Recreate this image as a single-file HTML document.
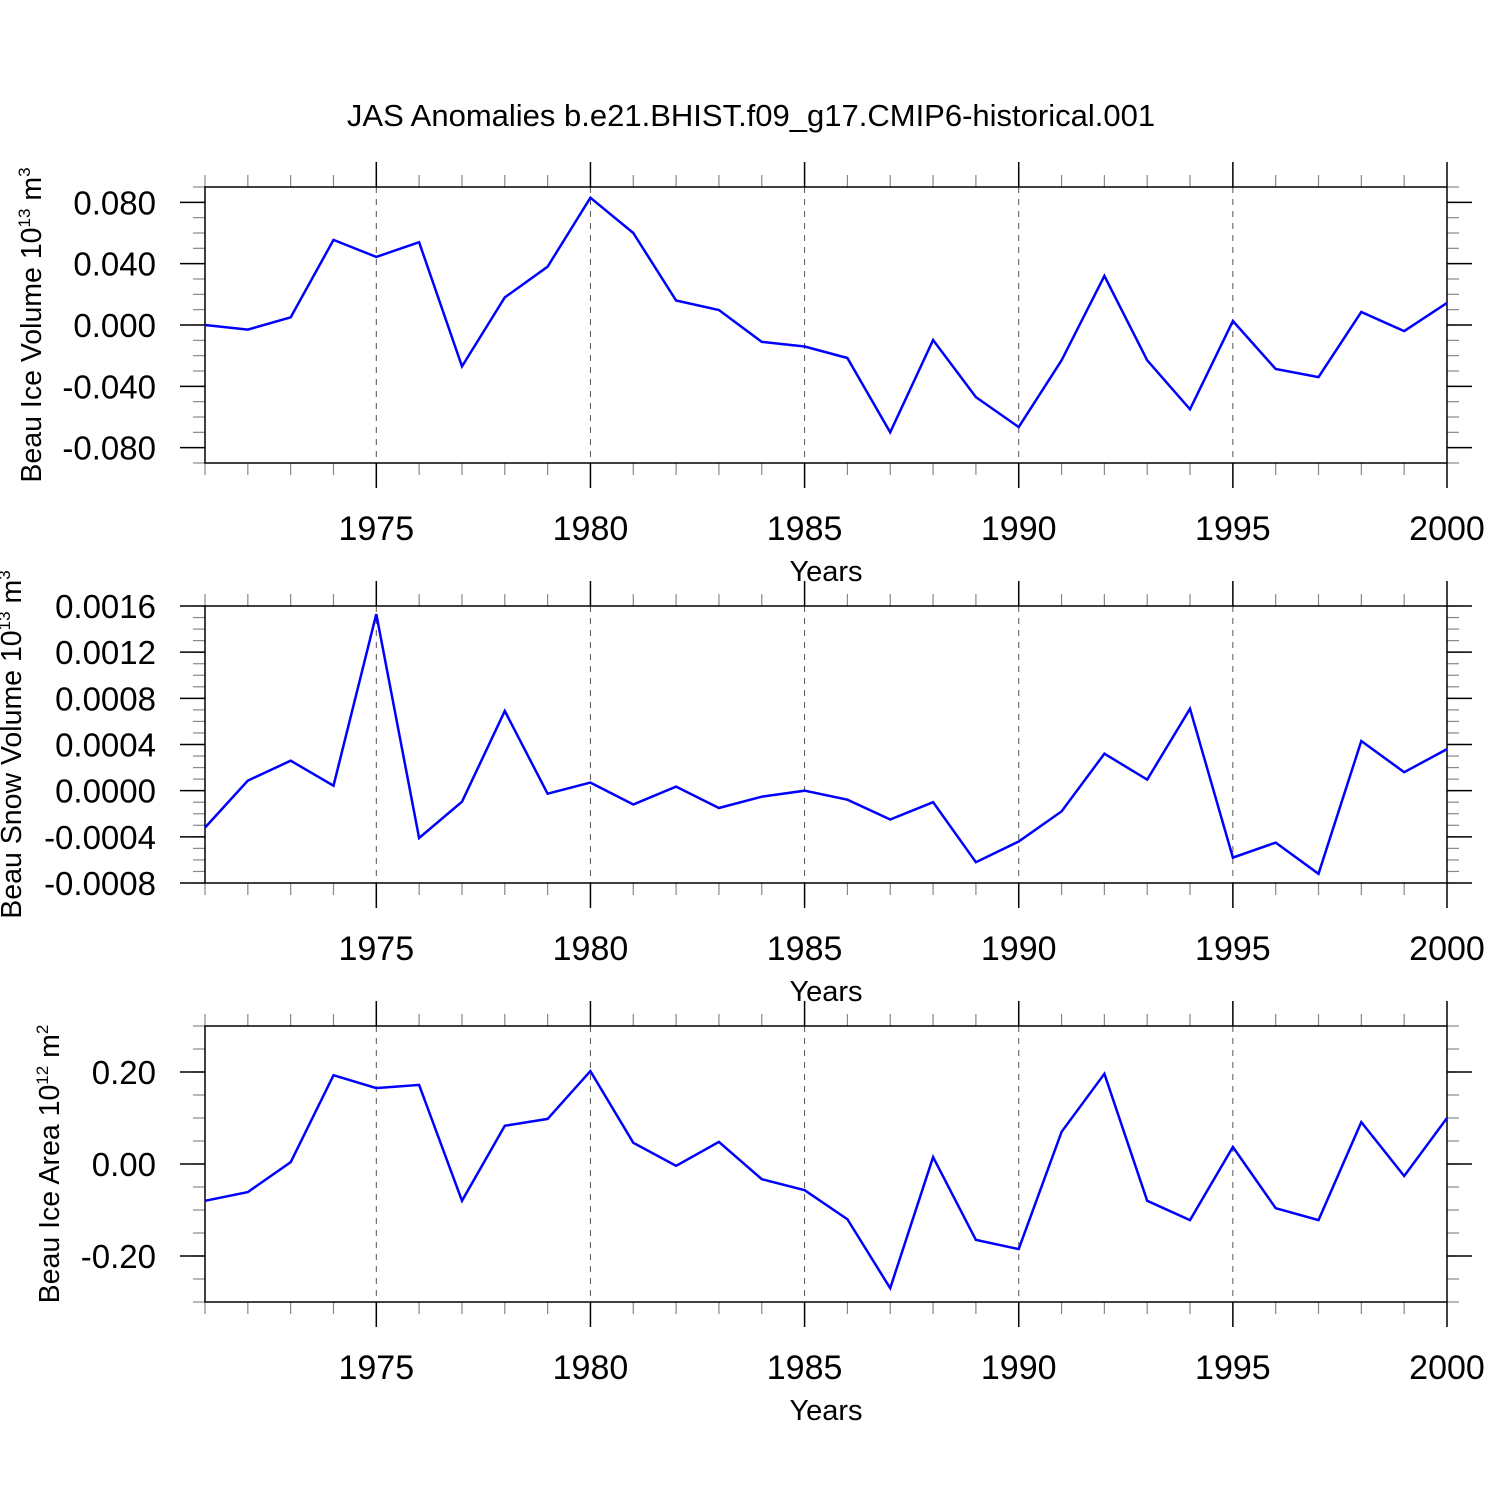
<!DOCTYPE html>
<html><head><meta charset="utf-8"><style>
html,body{margin:0;padding:0;background:#fff;}
svg text{font-family:"Liberation Sans",Arial,sans-serif;fill:#000;}
</style></head><body>
<svg id="chart" width="1500" height="1500" viewBox="0 0 1500 1500" xmlns="http://www.w3.org/2000/svg">
<rect width="1500" height="1500" fill="#fff"/>
<text x="751" y="126" font-size="31" text-anchor="middle">JAS Anomalies b.e21.BHIST.f09_g17.CMIP6-historical.001</text>
</svg>
<script>
const years = [1971,1972,1973,1974,1975,1976,1977,1978,1979,1980,1981,1982,1983,1984,1985,1986,1987,1988,1989,1990,1991,1992,1993,1994,1995,1996,1997,1998,1999,2000];
const iceVolume = [0,-0.003,0.005,0.0555,0.0444,0.054,-0.027,0.018,0.038,0.083,0.060,0.016,0.0098,-0.011,-0.014,-0.0215,-0.070,-0.0098,-0.047,-0.0666,-0.023,0.032,-0.023,-0.055,0.0026,-0.0287,-0.034,0.0085,-0.004,0.0144];
const snowVolume = [-0.00032,0.000087,0.00026,0.000043,0.00153,-0.00041,-0.000096,0.00069,-0.000026,0.00007,-0.00012,0.000035,-0.00015,-0.000052,0,-0.000078,-0.00025,-0.0001,-0.00062,-0.00044,-0.00018,0.00032,0.000096,0.00071,-0.00058,-0.00045,-0.00072,0.00043,0.00016,0.00036];
const iceArea = [-0.080,-0.061,0.004,0.193,0.165,0.172,-0.080,0.083,0.098,0.202,0.046,-0.004,0.048,-0.033,-0.057,-0.12,-0.27,0.015,-0.165,-0.185,0.07,0.196,-0.08,-0.122,0.037,-0.096,-0.122,0.091,-0.026,0.10];
const xTickLabels = ["1975","1980","1985","1990","1995","2000"];
const iceTicks = ["0.080","0.040","0.000","-0.040","-0.080"];
const snowTicks = ["0.0016","0.0012","0.0008","0.0004","0.0000","-0.0004","-0.0008"];
const areaTicks = ["0.20","0.00","-0.20"];

const NS="http://www.w3.org/2000/svg";
const svg=document.getElementById('chart');
function mk(tag,attrs,parent){const e=document.createElementNS(NS,tag);for(const k in attrs)e.setAttribute(k,attrs[k]);(parent||svg).appendChild(e);return e;}
const X0=205,X1=1447,YR0=1971,YR1=2000;
const xs=v=>X0+(v-YR0)/(YR1-YR0)*(X1-X0);

const panels=[
 {name:'ice-volume',top:187,bot:463,min:-0.09,max:0.09,data:iceVolume,ticks:iceTicks,minor:0.01,title:['Beau Ice Volume 10','13',' m','3'],tx:41},
 {name:'snow-volume',top:606,bot:883,min:-0.0008,max:0.0016,data:snowVolume,ticks:snowTicks,minor:0.0001,title:['Beau Snow Volume 10','13',' m','3'],tx:21},
 {name:'ice-area',top:1026,bot:1302,min:-0.3,max:0.3,data:iceArea,ticks:areaTicks,minor:0.05,title:['Beau Ice Area 10','12',' m','2'],tx:59}
];
panels.forEach(p=>{
 const g=mk('g',{});
 
 
 const ys=v=>p.bot-(v-p.min)/(p.max-p.min)*(p.bot-p.top);
 xTickLabels.forEach(l=>{const x=xs(+l);if(x<X1-1){const ln=mk('line',{x1:x,x2:x,y1:p.top,y2:p.bot,stroke:'#555','stroke-width':1,'stroke-dasharray':'6,6'},g);}});
 for(let y=YR0;y<=YR1;y++){const x=xs(y);const major=(y%5===0);const L=major?25:12;
  mk('line',{x1:x,x2:x,y1:p.top,y2:p.top-L,stroke:major?'#000':'#888','stroke-width':major?1.5:1.2},g);
  mk('line',{x1:x,x2:x,y1:p.bot,y2:p.bot+L,stroke:major?'#000':'#888','stroke-width':major?1.5:1.2},g);}
 const n=Math.round((p.max-p.min)/p.minor);
 for(let i=0;i<=n;i++){const y=ys(p.min+i*p.minor);
  mk('line',{x1:X0,x2:X0-12,y1:y,y2:y,stroke:'#888','stroke-width':1.2},g);
  mk('line',{x1:X1,x2:X1+12,y1:y,y2:y,stroke:'#888','stroke-width':1.2},g);}
 p.ticks.forEach(t=>{const y=ys(parseFloat(t));
  mk('line',{x1:X0,x2:X0-25,y1:y,y2:y,stroke:'#000','stroke-width':1.5},g);
  mk('line',{x1:X1,x2:X1+25,y1:y,y2:y,stroke:'#000','stroke-width':1.5},g);
  const tx=mk('text',{x:156,y:y+12,'font-size':33,'text-anchor':'end'},g);tx.textContent=t;
  });
 xTickLabels.forEach(l=>{const tx=mk('text',{x:xs(+l),y:p.bot+77,'font-size':34,'text-anchor':'middle'},g);tx.textContent=l;
  });
 const xt=mk('text',{x:826,y:p.bot+118,'font-size':29,'text-anchor':'middle'},g);xt.textContent='Years';
 
 const box=mk('rect',{x:X0,y:p.top,width:X1-X0,height:p.bot-p.top,fill:'none',stroke:'#000','stroke-width':1.5},g);
 
 const pts=p.data.map((v,i)=>xs(years[i]).toFixed(1)+','+ys(v).toFixed(1)).join(' ');
 const pl=mk('polyline',{points:pts,fill:'none',stroke:'#0000ff','stroke-width':2.5,'stroke-linejoin':'miter'},g);
 
 const cy=(p.top+p.bot)/2;
 const yt=mk('text',{x:0,y:0,'font-size':28.5,'text-anchor':'middle',transform:`translate(${p.tx},${cy}) rotate(-90)`},g);
 
 const a=mk('tspan',{},yt);a.textContent=p.title[0];
 const b=mk('tspan',{dy:-11,'font-size':17},yt);b.textContent=p.title[1];
 const c=mk('tspan',{dy:11},yt);c.textContent=p.title[2];
 const d=mk('tspan',{dy:-11,'font-size':17},yt);d.textContent=p.title[3];
});
</script>
</body></html>
